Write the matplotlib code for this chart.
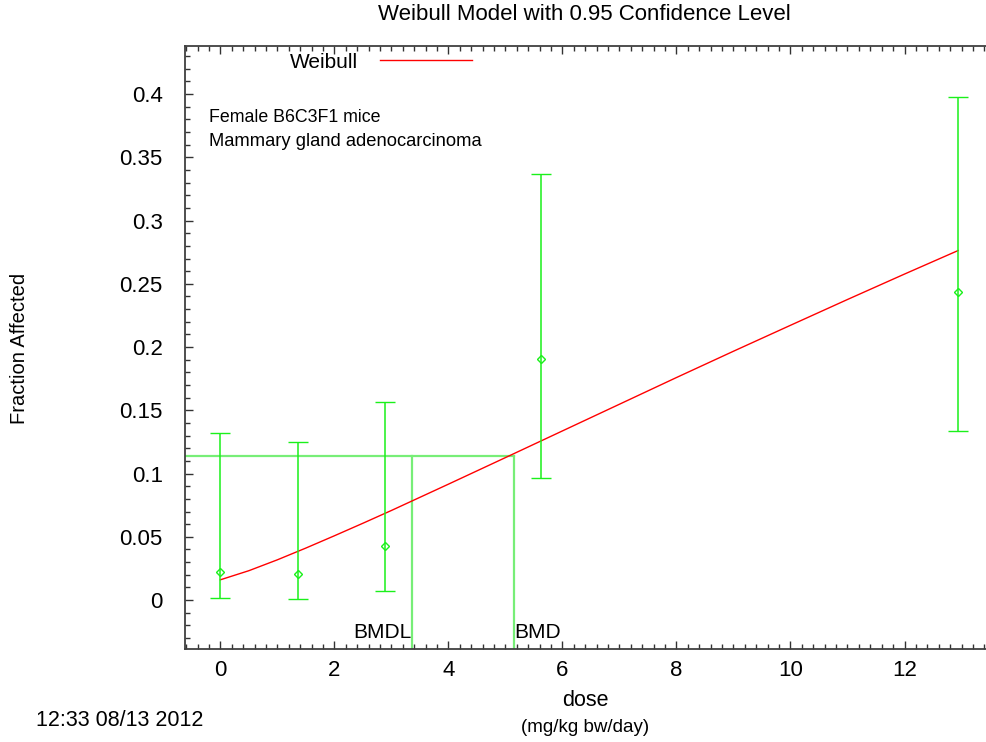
import matplotlib
matplotlib.use("Agg")
import matplotlib.pyplot as plt
from matplotlib.ticker import MultipleLocator, FormatStrFormatter

plt.rcParams['font.family'] = ['Liberation Sans', 'DejaVu Sans']

# observed data with 95% confidence limits
dose = [0, 1.36, 2.88, 5.62, 12.94]
frac = [0.0221, 0.0208, 0.0424, 0.1908, 0.2437]
lower = [0.0013, 0.001, 0.0074, 0.0962, 0.1336]
upper = [0.1322, 0.1246, 0.1568, 0.3365, 0.3976]

# fitted weibull curve
curve_dose = [0, 0.5, 1, 1.5, 2, 2.5, 3, 4, 5, 6, 7, 8, 9, 10, 11, 12, 12.94]
curve_frac = [0.016, 0.0232, 0.0318, 0.0411, 0.0508, 0.0607, 0.0708, 0.0916,
              0.1126, 0.1337, 0.1548, 0.1759, 0.1967, 0.2172, 0.2376, 0.2577, 0.2763]

bmr = 0.1141
bmd = 5.155
bmdl = 3.354

xmin, xmax = -0.62, 13.447
ymin, ymax = -0.0387, 0.438

W, H = 987, 742
fig = plt.figure(figsize=(W / 100, H / 100), dpi=100)
ax = fig.add_axes([185 / W, (H - 649) / H, (W - 185) / W, (649 - 46) / H])

ax.plot(curve_dose, curve_frac, color="#ff0000", lw=1.0, label="Weibull", zorder=3)

err_lo = [f - l for f, l in zip(frac, lower)]
err_hi = [u - f for f, u in zip(frac, upper)]
ax.errorbar(dose, frac, yerr=[err_lo, err_hi], fmt="D", color="#1af01a",
            ecolor="#1af01a", elinewidth=1.1, capsize=7.2, capthick=1.1,
            markersize=4, markerfacecolor="none", markeredgewidth=1.0, zorder=4)

# BMD / BMDL lines
bmd_col = "#77ee77"
ax.plot([xmin, bmd], [bmr, bmr], color=bmd_col, lw=1.6, zorder=2)
ax.plot([bmdl, bmdl], [ymin, bmr], color=bmd_col, lw=1.6, zorder=2)
ax.plot([bmd, bmd], [ymin, bmr], color=bmd_col, lw=1.6, zorder=2)
ax.text(bmdl, -0.0253, "BMDL", ha="right", va="center", fontsize=15)
ax.text(bmd, -0.0253, "BMD", ha="left", va="center", fontsize=15)

ax.set_xlim(xmin, xmax)
ax.set_ylim(ymin, ymax)

ax.xaxis.set_major_locator(MultipleLocator(2))
ax.xaxis.set_minor_locator(MultipleLocator(0.2))
ax.yaxis.set_major_locator(MultipleLocator(0.05))
ax.yaxis.set_minor_locator(MultipleLocator(0.01))
ax.yaxis.set_major_formatter(FormatStrFormatter("%g"))

ax.tick_params(which="both", direction="in", top=True, right=False,
               color="#333333", width=1.0, labelsize=16)
ax.tick_params(which="major", length=6)
ax.tick_params(which="minor", length=3.5)
ax.tick_params(axis="x", pad=8)
ax.tick_params(axis="y", pad=16)

for s in ["left", "bottom", "top"]:
    ax.spines[s].set_color("#404040")
    ax.spines[s].set_linewidth(1.3)
ax.spines["right"].set_visible(False)

leg = ax.legend(loc="center left", bbox_to_anchor=(290 / W, 1 - 62 / H),
                bbox_transform=fig.transFigure, frameon=False, markerfirst=False,
                handlelength=4.4, handletextpad=1.05, borderpad=0,
                borderaxespad=0, fontsize=15)

fig.text(584 / W, 1 - 15 / H, "Weibull Model with 0.95 Confidence Level",
         ha="center", va="center", fontsize=16)
fig.text(209 / W, 1 - 117 / H, "Female B6C3F1 mice", ha="left", va="center", fontsize=12.8)
fig.text(209 / W, 1 - 142 / H, "Mammary gland adenocarcinoma", ha="left", va="center", fontsize=13.2)
fig.text(20 / W, 1 - 348 / H, "Fraction Affected", rotation=90,
         ha="center", va="center", fontsize=14.5)
fig.text(585 / W, 1 - 700 / H, "dose", ha="center", va="center", fontsize=15.5)
fig.text(585 / W, 1 - 727 / H, "(mg/kg bw/day)", ha="center", va="center", fontsize=13.5)
fig.text(120 / W, 1 - 720 / H, "12:33 08/13 2012", ha="center", va="center", fontsize=15.5)

fig.savefig("out.png", dpi=100)
